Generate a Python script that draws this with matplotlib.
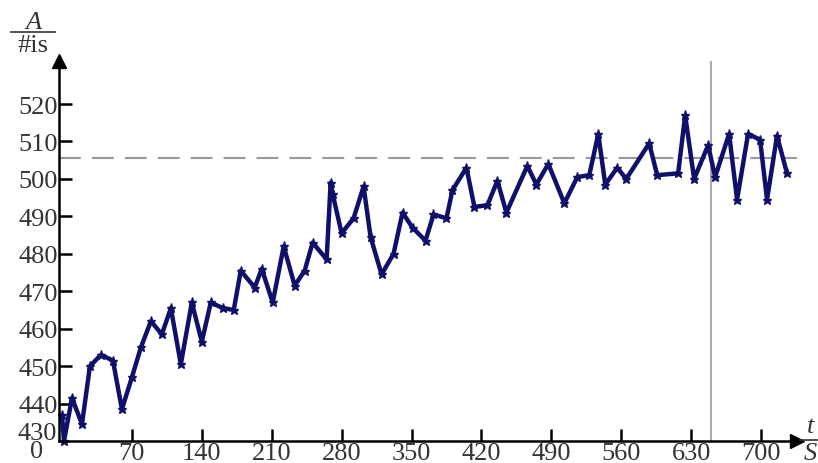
import matplotlib
matplotlib.use("Agg")
import matplotlib.pyplot as plt
from matplotlib.lines import Line2D

plt.rcParams['font.family'] = ['Liberation Serif', 'DejaVu Serif']

# data
t = [0, 2, 10, 20, 28, 39, 51, 60, 70, 79, 89, 100, 109, 119, 130, 140,
     149, 161, 172, 179, 193, 200, 211, 222, 233, 243, 251, 265, 269, 271,
     280, 292, 302, 309, 320, 332, 341, 351, 364, 372, 385, 391, 405, 413,
     426, 436, 445, 466, 475, 487, 503, 516, 528, 537, 544, 556, 565, 588,
     596, 617, 624, 633, 647, 654, 668, 676, 687, 699, 706, 716, 726]
A = [437, 430, 441.5, 434.5, 450, 453, 451.5, 438.5, 447, 455, 462, 458.5,
     465.5, 450.5, 467, 456.5, 467, 465.5, 465, 475.5, 471, 476, 467, 482,
     471.5, 475.5, 483, 478.5, 499, 496, 485.5, 489.5, 498, 484.5, 474.5,
     480, 491, 487, 483.5, 490.5, 489.5, 497, 503, 492.5, 493, 499.5, 491,
     503.5, 498.5, 504, 493.5, 500.5, 501, 512, 498.5, 503, 500, 509.5, 501,
     501.5, 517, 500, 509, 500.5, 512, 494.5, 512, 510.5, 494.5, 511.5, 501.5]
mean_level = 505.5
t_mark = 650
xticks = [70, 140, 210, 280, 350, 420, 490, 560, 630, 700]
yticks = [440, 450, 460, 470, 480, 490, 500, 510, 520]

W, H = 818, 464
fs = 19
grey = '#333333'
fig = plt.figure(figsize=(W / 100, H / 100), dpi=100)
ax = fig.add_axes([59 / W, 22 / H, (797 - 59) / W, (442 - 62) / H])
ax.set_xlim(-3, 736)
ax.set_ylim(430, 531.5)

ax.axhline(mean_level, color='#999999', lw=1.5, ls=(0, (10.5, 5.3)), zorder=1)
ax.axvline(t_mark, color='#aaaaaa', lw=1.5, zorder=1)
ax.plot(t, A, color='#10106a', lw=3.2, marker='*', ms=6.5, zorder=3, clip_on=False)

for s in ['top', 'right']:
    ax.spines[s].set_visible(False)
for s in ['left', 'bottom']:
    ax.spines[s].set_linewidth(1.8)
    ax.spines[s].set_zorder(4)
ax.plot(1, 0, '>', color='k', ms=10, transform=ax.transAxes, clip_on=False)
ax.plot(0, 1, '^', color='k', ms=10, transform=ax.transAxes, clip_on=False)

ax.set_xticks(xticks)
ax.set_yticks(yticks)
ax.tick_params(direction='in', length=9, width=1.8, labelsize=fs,
               labelcolor=grey)
ax.tick_params(axis='y', pad=1)
ax.tick_params(axis='x', pad=1)

# 430 sits a little above the axis, 0 below it
fig.text(57 / W, 1 - 434 / H, '430', fontsize=fs, color=grey,
         ha='right', va='center')
fig.text(37 / W, 1 - 452 / H, '0', fontsize=fs, color=grey,
         ha='center', va='center')

# axis names as fractions
fig.text(34 / W, 1 - 23 / H, 'A', fontsize=fs, style='italic',
         color=grey, ha='center', va='center')
fig.add_artist(Line2D([11 / W, 55 / W], [1 - 33 / H, 1 - 33 / H],
                      color=grey, lw=1.2))
fig.text(33 / W, 1 - 46 / H, '#is', fontsize=fs, color=grey,
         ha='center', va='center')
fig.text(811 / W, 1 - 427 / H, 't', fontsize=fs, style='italic',
         color=grey, ha='center', va='center')
fig.add_artist(Line2D([800 / W, 818 / W], [1 - 441 / H, 1 - 441 / H],
                      color=grey, lw=1.2))
fig.text(810 / W, 1 - 454 / H, 'S', fontsize=fs, style='italic',
         color=grey, ha='center', va='center')

fig.savefig('out.png', dpi=100)
